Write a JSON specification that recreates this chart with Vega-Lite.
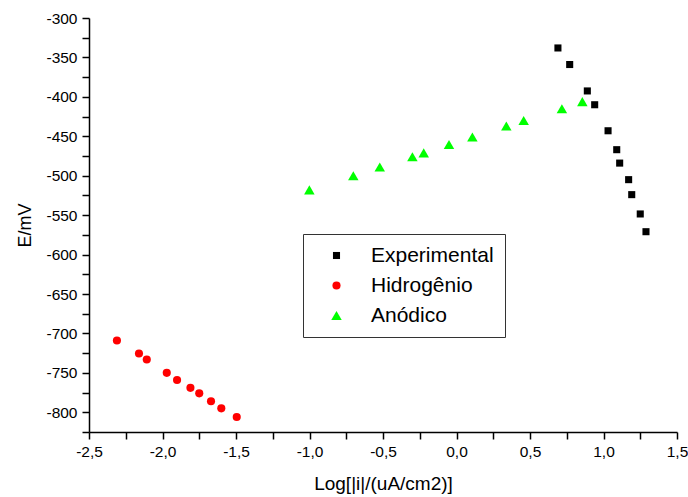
{
  "$schema": "https://vega.github.io/schema/vega-lite/v6.json",
  "width": 588,
  "height": 414,
  "autosize": {"type": "none"},
  "padding": {"left": 89, "top": 18, "right": 11, "bottom": 65},
  "background": "white",
  "config": {
    "font": "Liberation Sans",
    "view": {"stroke": null},
    "axis": {
      "grid": false,
      "domainColor": "#000000",
      "domainWidth": 1.5,
      "tickColor": "#000000",
      "tickWidth": 1.5,
      "tickSize": 7,
      "labelColor": "#000000",
      "titleColor": "#000000",
      "labelFontSize": 15.5,
      "titleFontSize": 18,
      "titleFontWeight": "normal",
      "labelFlush": false,
      "labelOverlap": false
    }
  },
  "data": {
    "values": [
      {"serie": "Experimental", "logi": 0.690, "E": -338},
      {"serie": "Experimental", "logi": 0.770, "E": -359},
      {"serie": "Experimental", "logi": 0.890, "E": -392.5},
      {"serie": "Experimental", "logi": 0.940, "E": -410},
      {"serie": "Experimental", "logi": 1.031, "E": -443},
      {"serie": "Experimental", "logi": 1.090, "E": -467},
      {"serie": "Experimental", "logi": 1.110, "E": -484},
      {"serie": "Experimental", "logi": 1.171, "E": -505},
      {"serie": "Experimental", "logi": 1.192, "E": -524},
      {"serie": "Experimental", "logi": 1.250, "E": -548.5},
      {"serie": "Experimental", "logi": 1.289, "E": -571},
      {"serie": "Hidrogênio", "logi": -2.310, "E": -709},
      {"serie": "Hidrogênio", "logi": -2.160, "E": -725.5},
      {"serie": "Hidrogênio", "logi": -2.107, "E": -733},
      {"serie": "Hidrogênio", "logi": -1.971, "E": -750},
      {"serie": "Hidrogênio", "logi": -1.901, "E": -759},
      {"serie": "Hidrogênio", "logi": -1.810, "E": -769},
      {"serie": "Hidrogênio", "logi": -1.750, "E": -776},
      {"serie": "Hidrogênio", "logi": -1.670, "E": -786},
      {"serie": "Hidrogênio", "logi": -1.600, "E": -795},
      {"serie": "Hidrogênio", "logi": -1.495, "E": -806},
      {"serie": "Anódico", "logi": -1.001, "E": -518},
      {"serie": "Anódico", "logi": -0.702, "E": -500},
      {"serie": "Anódico", "logi": -0.522, "E": -489},
      {"serie": "Anódico", "logi": -0.300, "E": -476},
      {"serie": "Anódico", "logi": -0.223, "E": -471},
      {"serie": "Anódico", "logi": -0.051, "E": -460.5},
      {"serie": "Anódico", "logi": 0.108, "E": -451},
      {"serie": "Anódico", "logi": 0.339, "E": -437},
      {"serie": "Anódico", "logi": 0.457, "E": -430},
      {"serie": "Anódico", "logi": 0.717, "E": -415},
      {"serie": "Anódico", "logi": 0.856, "E": -406}
    ]
  },
  "mark": {"type": "point", "filled": true, "opacity": 1, "strokeWidth": 0},
  "encoding": {
    "x": {
      "field": "logi",
      "type": "quantitative",
      "title": "Log[|i|/(uA/cm2)]",
      "scale": {"domain": [-2.5, 1.5], "nice": false, "zero": false},
      "axis": {
        "values": [-2.5, -2.25, -2, -1.75, -1.5, -1.25, -1, -0.75, -0.5, -0.25, 0, 0.25, 0.5, 0.75, 1, 1.25, 1.5],
        "labelExpr": "datum.value % 0.5 === 0 ? (datum.value < 0 ? '-' : '') + replace(format(abs(datum.value), '.1f'), '.', ',') : ''",
        "encode": {"ticks": {"update": {"y2": {"signal": "datum.value % 0.5 === 0 ? 7 : 4"}}}},
        "labelPadding": 5,
        "titleFontSize": 19,
        "titlePadding": 15
      }
    },
    "y": {
      "field": "E",
      "type": "quantitative",
      "title": "E/mV",
      "scale": {"domain": [-825, -300], "nice": false, "zero": false},
      "axis": {
        "values": [-825, -800, -775, -750, -725, -700, -675, -650, -625, -600, -575, -550, -525, -500, -475, -450, -425, -400, -375, -350, -325, -300],
        "labelExpr": "datum.value % 50 === 0 ? '-' + format(abs(datum.value), 'd') : ''",
        "encode": {"ticks": {"update": {"x2": {"signal": "datum.value % 50 === 0 ? -7 : -4"}}}},
        "labelPadding": 5,
        "titlePadding": 11
      }
    },
    "color": {
      "field": "serie",
      "type": "nominal",
      "title": null,
      "scale": {"domain": ["Experimental", "Hidrogênio", "Anódico"], "range": ["#000000", "#ff0000", "#00ff00"]},
      "legend": {
        "orient": "none",
        "legendX": 214,
        "legendY": 216,
        "strokeColor": "#333333",
        "fillColor": "white",
        "padding": 11,
        "symbolOffset": 12,
        "labelOffset": 24,
        "rowPadding": 8,
        "labelFontSize": 21,
        "labelColor": "#000000",
        "symbolStrokeWidth": 0
      }
    },
    "shape": {
      "field": "serie",
      "type": "nominal",
      "title": null,
      "scale": {"domain": ["Experimental", "Hidrogênio", "Anódico"], "range": ["square", "circle", "triangle-up"]}
    },
    "size": {
      "field": "serie",
      "type": "nominal",
      "title": null,
      "scale": {"type": "ordinal", "domain": ["Experimental", "Hidrogênio", "Anódico"], "range": [50, 66, 110]}
    }
  }
}
